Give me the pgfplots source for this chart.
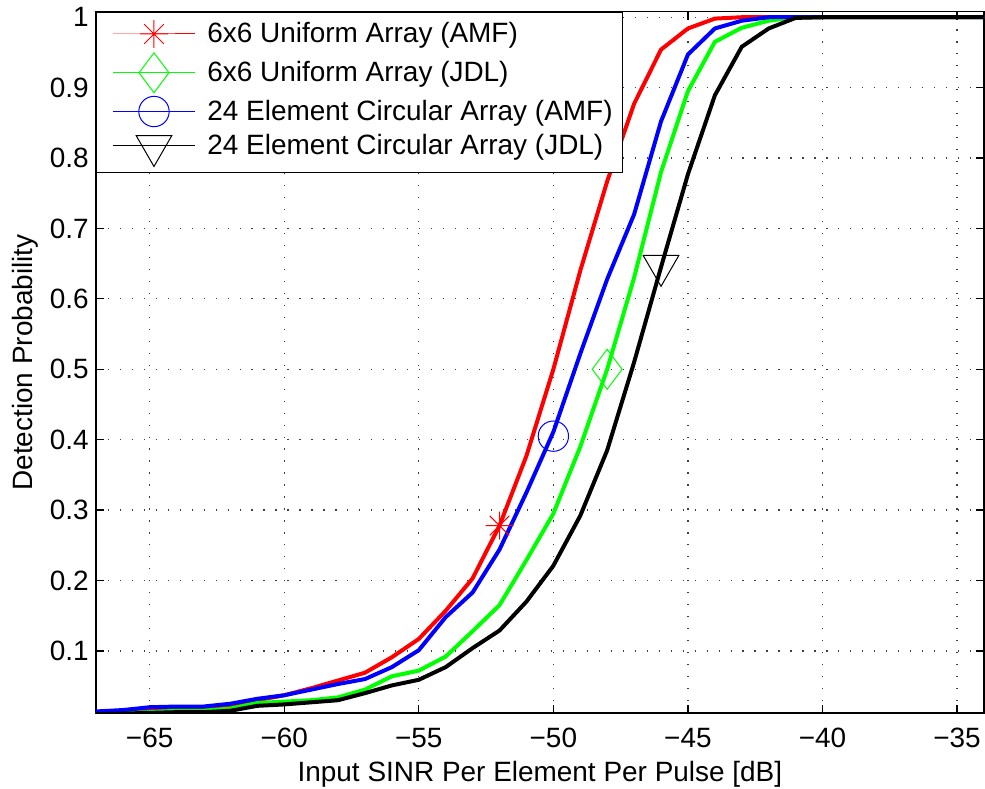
\documentclass[border=0pt]{standalone}
\usepackage{pgfplots}
\pgfplotsset{compat=1.18}
\usepackage{fontspec}
\setmainfont{Liberation Sans}

\pgfdeclareplotmark{mstar}{%
  \pgfpathmoveto{\pgfpoint{0pt}{\pgfplotmarksize}}\pgfpathlineto{\pgfpoint{0pt}{-\pgfplotmarksize}}%
  \pgfpathmoveto{\pgfpoint{\pgfplotmarksize}{0pt}}\pgfpathlineto{\pgfpoint{-\pgfplotmarksize}{0pt}}%
  \pgfpathmoveto{\pgfpoint{0.7\pgfplotmarksize}{0.7\pgfplotmarksize}}\pgfpathlineto{\pgfpoint{-0.7\pgfplotmarksize}{-0.7\pgfplotmarksize}}%
  \pgfpathmoveto{\pgfpoint{-0.7\pgfplotmarksize}{0.7\pgfplotmarksize}}\pgfpathlineto{\pgfpoint{0.7\pgfplotmarksize}{-0.7\pgfplotmarksize}}%
  \pgfusepathqstroke}

\definecolor{mred}{RGB}{255,0,0}
\definecolor{mgreen}{RGB}{0,255,0}
\definecolor{mblue}{RGB}{0,0,255}

\pgfplotstableread{
x red blue green black
-67 0.011 0.014 0.011 0.010
-66 0.013 0.016 0.012 0.011
-65 0.015 0.020 0.013 0.012
-64 0.017 0.021 0.015 0.013
-63 0.018 0.021 0.015 0.013
-62 0.022 0.025 0.018 0.015
-61 0.030 0.032 0.026 0.022
-60 0.037 0.037 0.028 0.024
-59 0.047 0.045 0.030 0.027
-58 0.058 0.053 0.034 0.030
-57 0.069 0.060 0.045 0.040
-56 0.091 0.077 0.064 0.051
-55 0.117 0.101 0.072 0.059
-54 0.157 0.148 0.092 0.077
-53 0.203 0.183 0.128 0.104
-52 0.278 0.244 0.165 0.129
-51 0.377 0.325 0.229 0.170
-50 0.500 0.411 0.295 0.221
-49 0.640 0.522 0.390 0.292
-48 0.767 0.628 0.500 0.385
-47 0.877 0.720 0.630 0.510
-46 0.954 0.852 0.780 0.645
-45 0.984 0.947 0.895 0.777
-44 0.998 0.984 0.965 0.889
-43 1.000 0.995 0.985 0.958
-42 1.000 1.000 0.995 0.984
-41 1.000 1.000 1.000 0.999
-40 1.000 1.000 1.000 1.000
-39 1.000 1.000 1.000 1.000
-38 1.000 1.000 1.000 1.000
-37 1.000 1.000 1.000 1.000
-36 1.000 1.000 1.000 1.000
-35 1.000 1.000 1.000 1.000
-34 1.000 1.000 1.000 1.000
}\curves

\begin{document}
\begin{tikzpicture}
\begin{axis}[
  at={(0,0)}, anchor=south west,
  scale only axis,
  width=445pt, height=351.5pt,
  xmin=-67, xmax=-34,
  ymin=0.0116, ymax=1.008,
  xtick={-65,-60,-55,-50,-45,-40,-35},
  xticklabels={−65,−60,−55,−50,−45,−40,−35},
  ytick={0.1,0.2,0.3,0.4,0.5,0.6,0.7,0.8,0.9,1},
  yticklabels={0.1,0.2,0.3,0.4,0.5,0.6,0.7,0.8,0.9,1},
  xtick pos=both, ytick pos=both,
  tick align=inside,
  major tick length=4pt,
  tick style={black, line width=0.6pt},
  axis line style={black, line width=0.8pt},
  grid=major,
  major grid style={black!75, line width=0.6pt, dash pattern=on 0.6pt off 5.4pt},
  tick label style={font=\fontsize{14}{16.5}\selectfont},
  xticklabel style={yshift=-4pt},
  label style={font=\fontsize{14}{16.5}\selectfont},
  xlabel={Input SINR Per Element Per Pulse [dB]},
  ylabel={Detection Probability},
  xlabel style={yshift=0pt},
  ylabel style={yshift=-1pt},
  legend cell align=left,
  legend style={at={(0,1)}, anchor=north west, draw=black, line width=0.8pt, fill=white,
    font=\fontsize{14}{16.5}\selectfont, row sep=1.6pt, inner xsep=3pt, inner ysep=3pt},
  legend image code/.code={\path (-5pt,0pt); \draw[line width=0.5pt, mark repeat=2, mark phase=2] plot coordinates {(0pt,0pt) (20.5pt,0pt) (41pt,0pt)}; \path (45pt,0pt);},
]
\addplot[mred, line width=2pt, forget plot] table[x=x, y=red] {\curves};
\addplot[mgreen, line width=2pt, forget plot] table[x=x, y=green] {\curves};
\addplot[mblue, line width=2pt, forget plot] table[x=x, y=blue] {\curves};
\addplot[black, line width=2pt, forget plot] table[x=x, y=black] {\curves};

\addplot[mred, line width=0.5pt, mark=mstar, mark size=7pt] coordinates {(-52,0.278)};
\addlegendentry{6x6 Uniform Array (AMF)}
\addplot[mgreen, line width=0.5pt, mark=diamond, mark size=10pt] coordinates {(-48,0.500)};
\addlegendentry{6x6 Uniform Array (JDL)}
\addplot[mblue, line width=0.5pt, mark=o, mark size=7.6pt] coordinates {(-50,0.405)};
\addlegendentry{24 Element Circular Array (AMF)}
\addplot[black, line width=0.5pt, mark=triangle, mark size=10.3pt, mark options={rotate=180}] coordinates {(-46,0.647)};
\addlegendentry{24 Element Circular Array (JDL)}
\end{axis}
\pgfresetboundingbox
\path[use as bounding box] (-48pt,-37.5pt) rectangle (445.5pt,357.3pt);
\end{tikzpicture}
\end{document}
